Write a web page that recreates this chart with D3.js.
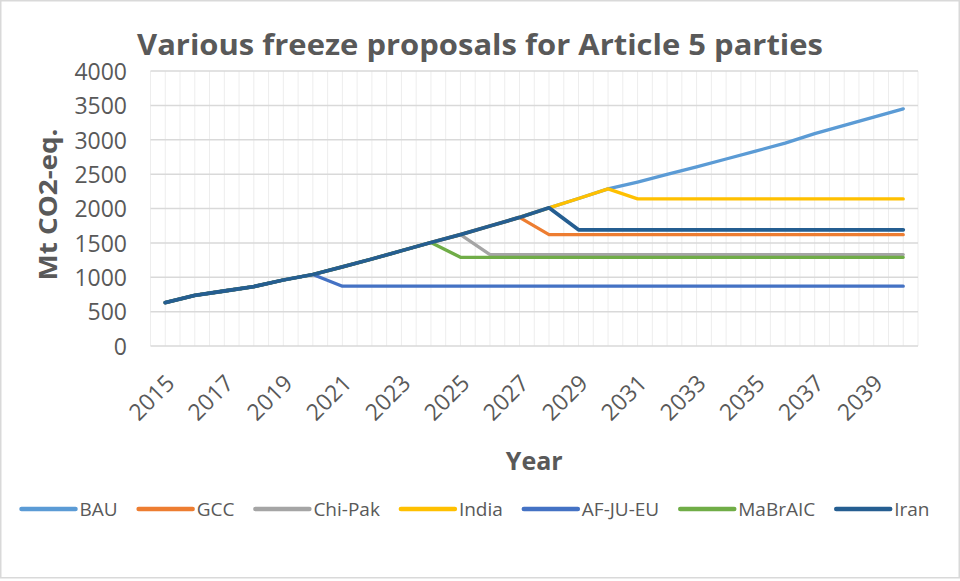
<!DOCTYPE html>
<html>
<head>
<meta charset="utf-8">
<script src="https://cdn.jsdelivr.net/npm/d3@7"></script>
<style>
  html, body { margin: 0; padding: 0; background: #fff; }
  svg { display: block; }
  text { font-family: "Open Sans", "Liberation Sans", sans-serif; fill: #595959; }
</style>
</head>
<body>
<svg id="chart" width="960" height="581"></svg>
<script>
// Emissions scenarios, Mt CO2-eq. per year
const years = [2015, 2016, 2017, 2018, 2019, 2020, 2021, 2022, 2023, 2024, 2025, 2026, 2027,
               2028, 2029, 2030, 2031, 2032, 2033, 2034, 2035, 2036, 2037, 2038, 2039, 2040];

const bau     = [630, 735, 800, 865, 960, 1040, 1150, 1265, 1385, 1505, 1620, 1745, 1870,
                 2010, 2145, 2285, 2385, 2495, 2605, 2720, 2835, 2950, 3090, 3210, 3330, 3450];
const gcc     = [630, 735, 800, 865, 960, 1040, 1150, 1265, 1385, 1505, 1620, 1745, 1870,
                 1620, 1620, 1620, 1620, 1620, 1620, 1620, 1620, 1620, 1620, 1620, 1620, 1620];
const chiPak  = [630, 735, 800, 865, 960, 1040, 1150, 1265, 1385, 1505, 1620, 1330, 1330,
                 1330, 1330, 1330, 1330, 1330, 1330, 1330, 1330, 1330, 1330, 1330, 1330, 1330];
const india   = [630, 735, 800, 865, 960, 1040, 1150, 1265, 1385, 1505, 1620, 1745, 1870,
                 2010, 2145, 2285, 2140, 2140, 2140, 2140, 2140, 2140, 2140, 2140, 2140, 2140];
const afJuEu  = [630, 735, 800, 865, 960, 1040, 870, 870, 870, 870, 870, 870, 870,
                 870, 870, 870, 870, 870, 870, 870, 870, 870, 870, 870, 870, 870];
const maBrAIC = [630, 735, 800, 865, 960, 1040, 1150, 1265, 1385, 1505, 1290, 1290, 1290,
                 1290, 1290, 1290, 1290, 1290, 1290, 1290, 1290, 1290, 1290, 1290, 1290, 1290];
const iran    = [630, 735, 800, 865, 960, 1040, 1150, 1265, 1385, 1505, 1620, 1745, 1870,
                 2010, 1690, 1690, 1690, 1690, 1690, 1690, 1690, 1690, 1690, 1690, 1690, 1690];

const seriesNames  = ["BAU", "GCC", "Chi-Pak", "India", "AF-JU-EU", "MaBrAIC", "Iran"];
const seriesValues = [bau, gcc, chiPak, india, afJuEu, maBrAIC, iran];
const seriesColors = ["#5B9BD5", "#ED7D31", "#A5A5A5", "#FFC000", "#4472C4", "#70AD47", "#255E91"];

const yTicks = [0, 500, 1000, 1500, 2000, 2500, 3000, 3500, 4000];
const xTickYears = years.filter((d, i) => i % 2 === 0 && d < 2040);

const titleText = "Various freeze proposals for Article 5 parties";
const yTitle = "Mt CO2-eq.";
const xTitle = "Year";

// ---- layout ----
const W = 960, H = 581;
const plot = { left: 150.5, right: 918, top: 71, bottom: 346 };

const svg = d3.select("#chart");

// outer chart border
svg.append("rect")
  .attr("x", 0.75).attr("y", 0.75)
  .attr("width", W - 1.5).attr("height", H - 4)
  .attr("fill", "#fff").attr("stroke", "#d9d9d9").attr("stroke-width", 1.5);

const x = d3.scaleBand().domain(years).range([plot.left, plot.right]);
const xc = d => x(d) + x.bandwidth() / 2;
const y = d3.scaleLinear().domain([0, 4000]).range([plot.bottom, plot.top]);

// vertical gridlines at every category edge and centre
const vLines = [];
years.forEach(d => { vLines.push(x(d)); vLines.push(xc(d)); });
vLines.push(plot.right);
svg.append("g").selectAll("line").data(vLines).join("line")
  .attr("x1", d => d).attr("x2", d => d)
  .attr("y1", plot.top).attr("y2", plot.bottom)
  .attr("stroke", "#ededed").attr("stroke-width", 1);

// horizontal gridlines
svg.append("g").selectAll("line").data(yTicks).join("line")
  .attr("x1", plot.left).attr("x2", plot.right)
  .attr("y1", d => y(d)).attr("y2", d => y(d))
  .attr("stroke", "#d9d9d9").attr("stroke-width", 1.5);

// y axis labels
const yAxis = d3.axisLeft(y).tickValues(yTicks).tickFormat(d3.format("d")).tickSize(0).tickPadding(0);
const gy = svg.append("g").attr("transform", `translate(127,0)`).call(yAxis);
gy.select(".domain").remove();
gy.selectAll("text")
  .style("font-family", '"Open Sans", sans-serif')
  .style("font-size", "23px")
  .attr("fill", "#595959")
  .attr("dy", "0.36em");

// x axis labels (every second year, rotated)
const xAxis = d3.axisBottom(x).tickValues(xTickYears).tickFormat(d3.format("d")).tickSize(0).tickPadding(0);
const gx = svg.append("g").attr("transform", `translate(0,${plot.bottom})`).call(xAxis);
gx.select(".domain").remove();
gx.selectAll("text")
  .style("font-family", '"Open Sans", sans-serif')
  .style("font-size", "23px")
  .attr("fill", "#595959")
  .attr("text-anchor", "end")
  .attr("y", 0).attr("dy", "0.35em")
  .attr("transform", "translate(5,33) rotate(-45)");

// series lines
const line = d3.line()
  .x((d, i) => xc(years[i]))
  .y(d => y(d));

svg.append("g").selectAll("path")
  .data(seriesValues.map((v, i) => ({ v, c: seriesColors[i], name: seriesNames[i] })))
  .join("path")
  .attr("d", d => line(d.v))
  .attr("fill", "none")
  .attr("stroke", d => d.c)
  .attr("stroke-width", d => d.name === "Iran" ? 3.8 : 3.3)
  .attr("stroke-linejoin", "round")
  .attr("stroke-linecap", "round");

// title
svg.append("text")
  .attr("x", 480).attr("y", 55)
  .attr("text-anchor", "middle")
  .attr("textLength", 686).attr("lengthAdjust", "spacingAndGlyphs")
  .style("font-size", "29px").style("font-weight", "bold")
  .text(titleText);

// axis titles
svg.append("text")
  .attr("transform", `translate(57,${(plot.top + plot.bottom) / 2 - 4}) rotate(-90)`)
  .attr("text-anchor", "middle")
  .attr("textLength", 152).attr("lengthAdjust", "spacingAndGlyphs")
  .style("font-size", "25px").style("font-weight", "bold")
  .text(yTitle);

svg.append("text")
  .attr("x", (plot.left + plot.right) / 2).attr("y", 470)
  .attr("text-anchor", "middle")
  .style("font-size", "25px").style("font-weight", "bold")
  .text(xTitle);

// legend
const legendY = 509, sampleLen = 54, sampleGap = 4, itemGap = 21;
const lg = svg.append("g");
const items = seriesNames.map((name, i) => {
  const g = lg.append("g");
  g.append("line")
    .attr("x1", 0).attr("x2", sampleLen)
    .attr("y1", 0).attr("y2", 0)
    .attr("stroke", seriesColors[i]).attr("stroke-width", 4.5)
    .attr("stroke-linecap", "round");
  const t = g.append("text")
    .attr("x", sampleLen + sampleGap)
    .attr("dy", "0.36em")
    .style("font-size", "19px")
    .text(name);
  const w = t.node().getComputedTextLength();
  return { g, w: sampleLen + sampleGap + w };
});
const total = d3.sum(items, d => d.w) + itemGap * (items.length - 1);
let cx = 475.5 - total / 2;
items.forEach(it => {
  it.g.attr("transform", `translate(${cx},${legendY})`);
  cx += it.w + itemGap;
});
</script>
</body>
</html>
